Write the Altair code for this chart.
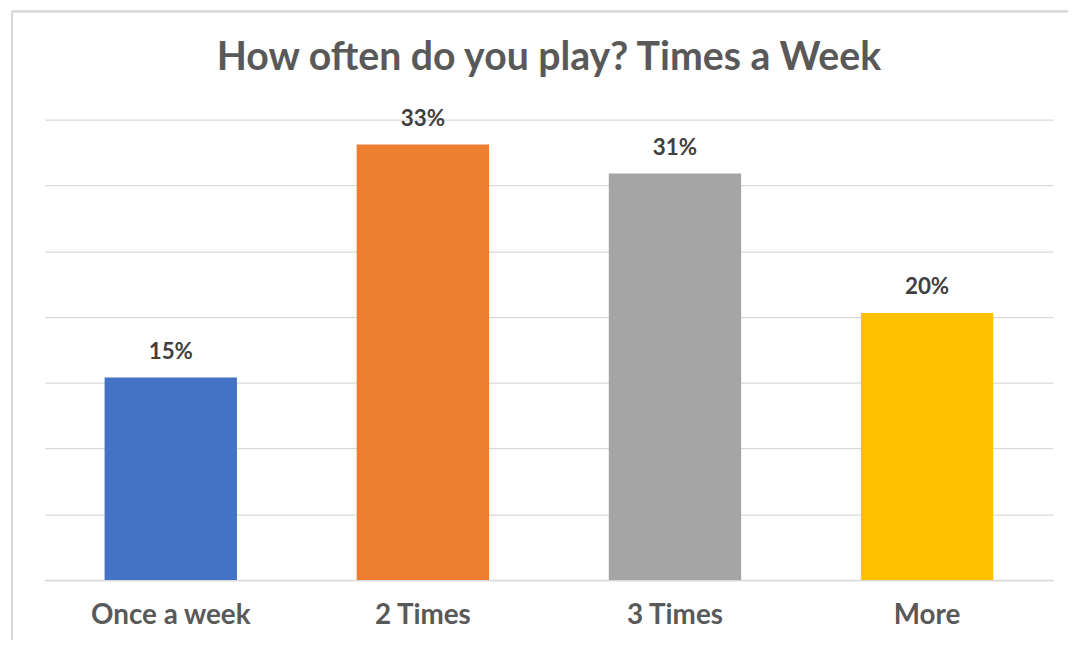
import altair as alt
import pandas as pd

categories = ["Once a week", "2 Times", "3 Times", "More"]
values = [15.4, 33.1, 30.9, 20.3]
labels = ["15%", "33%", "31%", "20%"]
colors = ["#4472C4", "#ED7D31", "#A5A5A5", "#FFC000"]
title = "How often do you play? Times a Week"

df = pd.DataFrame({"cat": categories, "val": values, "lab": labels})

W, H = 1016, 464
FONT = "Lato"

x = alt.X("cat:N", sort=categories, title=None,
          scale=alt.Scale(paddingInner=0.475, paddingOuter=0.2375),
          axis=alt.Axis(labelAngle=0, labelFont=FONT, labelFontSize=28, labelFontWeight="bold",
                        labelColor="#595959", labelPadding=22, ticks=False, domain=True, grid=False,
                        domainColor="#D9D9D9", domainWidth=1.5))
y = alt.Y("val:Q", title=None,
          scale=alt.Scale(domain=[0, 35], nice=False),
          axis=alt.Axis(values=[0, 5, 10, 15, 20, 25, 30, 35], labels=False, ticks=False, domain=False,
                        grid=True, gridColor="#D9D9D9", gridWidth=1.3))

bars = alt.Chart(df).mark_bar().encode(
    x=x, y=y,
    color=alt.Color("cat:N", sort=categories, scale=alt.Scale(domain=categories, range=colors), legend=None),
)

text = alt.Chart(df).mark_text(dy=-26, font=FONT, fontSize=22.5, fontWeight="bold", color="#404040").encode(
    x=alt.X("cat:N", sort=categories), y="val:Q", text="lab:N"
)

title_df = pd.DataFrame({"t": [title]})
title_mark = alt.Chart(title_df).mark_text(font=FONT, fontSize=39.5, fontWeight="bold", color="#595959",
                                           align="center", baseline="middle").encode(
    x=alt.value(W / 2), y=alt.value(-62), text="t:N"
)

border_top = alt.Chart(df).mark_rule(color="#D9D9D9", strokeWidth=2).encode(
    x=alt.value(-33), x2=alt.value(W + 15), y=alt.value(-109)
)
border_left = alt.Chart(df).mark_rule(color="#D9D9D9", strokeWidth=2).encode(
    x=alt.value(-33), y=alt.value(-109), y2=alt.value(H + 60)
)

chart = alt.layer(bars, text, title_mark, border_top, border_left).properties(
    width=W, height=H,
    background="white",
    autosize=alt.AutoSizeParams(type="none"),
    padding={"left": 37, "top": 110, "right": 15, "bottom": 60},
).configure_view(strokeWidth=0, stroke="transparent")

chart.save("out.html", embed_options={"renderer": "svg", "actions": False})
